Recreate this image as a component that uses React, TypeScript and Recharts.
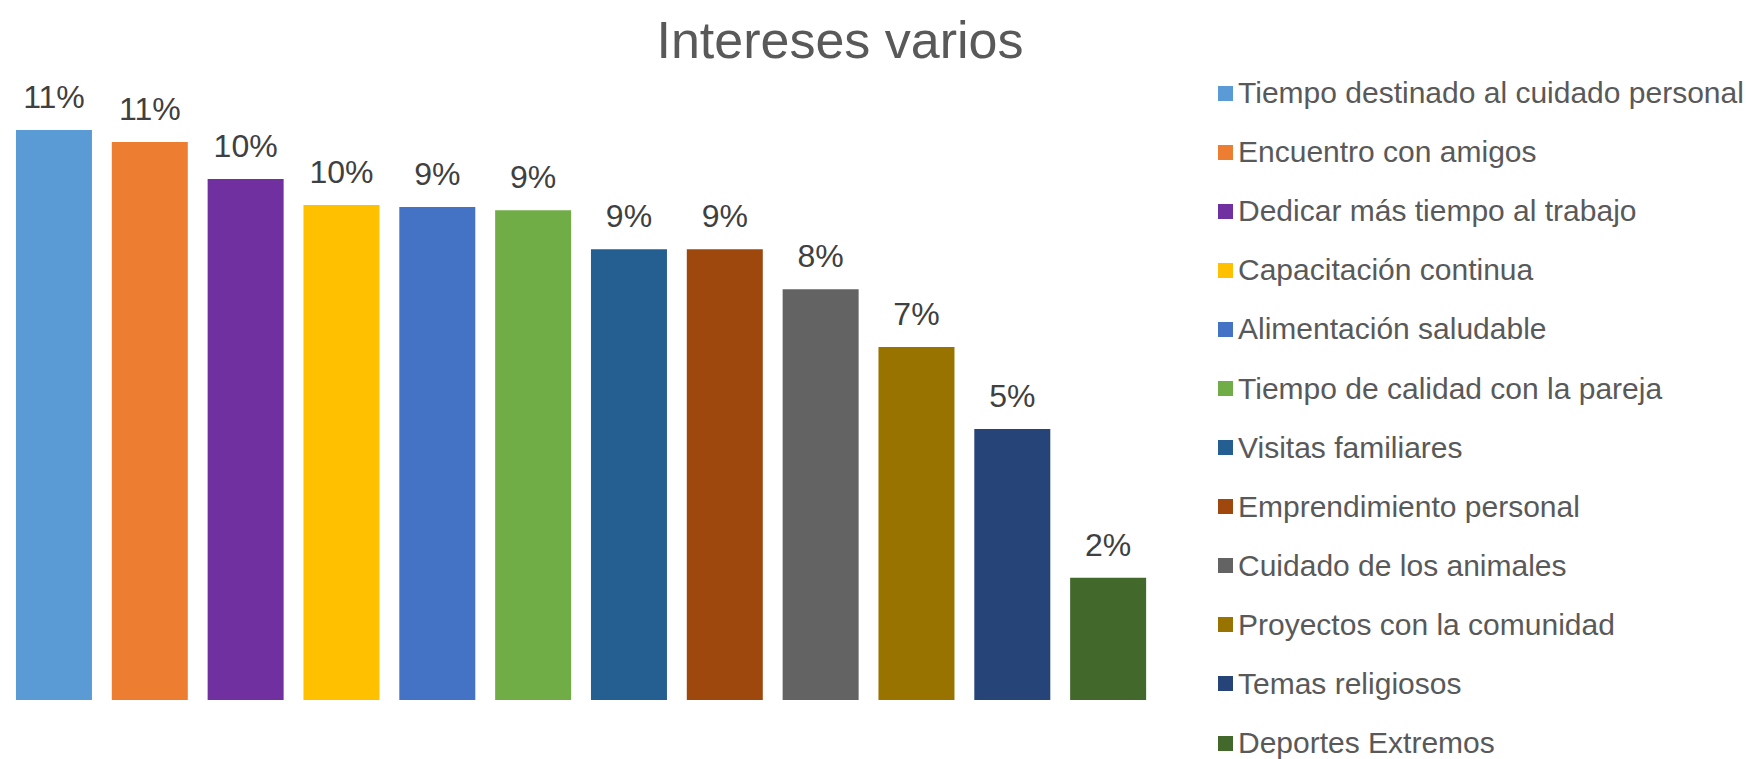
import { BarChart, Bar, XAxis, YAxis, Cell, LabelList } from 'recharts';

const categories = [
  'Tiempo destinado al cuidado personal',
  'Encuentro con amigos',
  'Dedicar más tiempo al trabajo',
  'Capacitación continua',
  'Alimentación saludable',
  'Tiempo de calidad con la pareja',
  'Visitas familiares',
  'Emprendimiento personal',
  'Cuidado de los animales',
  'Proyectos con la comunidad',
  'Temas religiosos',
  'Deportes Extremos',
];

// percentage share per interest
const values = [10.96, 10.73, 10.02, 9.52, 9.48, 9.42, 8.67, 8.67, 7.9, 6.79, 5.21, 2.35];

const colors = [
  '#5B9BD5', '#ED7D31', '#7030A0', '#FFC000', '#4472C4', '#70AD47',
  '#255E91', '#9E480E', '#636363', '#997300', '#264478', '#43682B',
];

const data = categories.map((name, i) => ({ name, value: values[i], color: colors[i] }));

const FONT = '"Liberation Sans", Arial, sans-serif';

export default function App() {
  return (
    <div style={{ position: 'relative', width: 1746, height: 759, fontFamily: FONT, background: '#fff' }}>
      <style>{`body { margin: 0; }`}</style>
      <div
        style={{
          position: 'absolute',
          left: 0,
          width: 1680,
          top: 10,
          textAlign: 'center',
          fontSize: 52,
          lineHeight: '60px',
          color: '#595959',
        }}
      >
        Intereses varios
      </div>
      <BarChart
        width={1746}
        height={759}
        data={data}
        margin={{ top: 76, right: 590, left: 6, bottom: 59 }}
        barCategoryGap="10.4%"
      >
        <XAxis dataKey="name" hide />
        <YAxis hide domain={[0, 12]} />
        <Bar dataKey="value" isAnimationActive={false}>
          {data.map((entry, index) => (
            <Cell key={`cell-${index}`} fill={entry.color} />
          ))}
          <LabelList
            dataKey="value"
            position="top"
            offset={22}
            formatter={(v: any) => `${Math.round(v)}%`}
            style={{ fontSize: 32, fill: '#404040', fontFamily: FONT }}
          />
        </Bar>
      </BarChart>
      <div style={{ position: 'absolute', left: 1218, top: 63.5 }}>
        {data.map((d) => (
          <div key={d.name} style={{ display: 'flex', alignItems: 'center', height: 59.1 }}>
            <div style={{ width: 15, height: 15, background: d.color, marginRight: 5 }} />
            <span style={{ fontSize: 30, lineHeight: '30px', color: '#595959', whiteSpace: 'nowrap' }}>{d.name}</span>
          </div>
        ))}
      </div>
    </div>
  );
}
